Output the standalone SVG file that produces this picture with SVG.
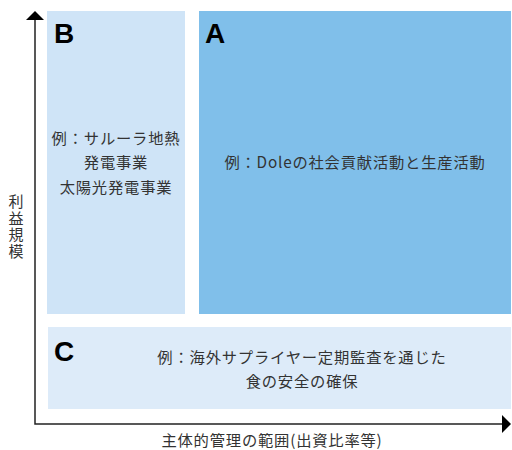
<svg xmlns="http://www.w3.org/2000/svg" width="512" height="450" viewBox="0 0 512 450">
<style>
.lbl{font-family:"Liberation Sans",Arial,sans-serif;font-size:28px;font-weight:bold;fill:#000;}
.t{font-family:"Noto Sans CJK JP","Noto Sans",sans-serif;font-size:15.3px;fill:#333;text-anchor:middle;letter-spacing:0.8px;}
.ax{stroke:#222;stroke-width:1.5;fill:none;}
</style>
<rect width="512" height="450" fill="#fff"/>
<g id="nodeB">
<rect x="47" y="11" width="138" height="303" fill="#cfe4f7"/>
<text class="lbl" x="54" y="43">B</text>
<text class="t" x="116" y="144">例：サルーラ地熱</text>
<text class="t" x="116" y="168">発電事業</text>
<text class="t" x="116" y="193">太陽光発電事業</text>
</g>
<g id="nodeA">
<rect x="199" y="11" width="312" height="303" fill="#80bfea"/>
<text class="lbl" x="205" y="43">A</text>
<text class="t" x="355" y="168">例：Doleの社会貢献活動と生産活動</text>
</g>
<g id="nodeC">
<rect x="48" y="327" width="463" height="82" fill="#ddebf9"/>
<text class="lbl" x="54" y="361">C</text>
<text class="t" x="302" y="363">例：海外サプライヤー定期監査を通じた</text>
<text class="t" x="302" y="387">食の安全の確保</text>
</g>
<g id="connectors">
<path class="ax" d="M35 20 V424 H503"/>
<polygon points="26,20 44,20 35,11" fill="#000"/>
<polygon points="502,415 502,433 511,424" fill="#000"/>
</g>
<g id="axis-labels">
<text x="16" y="194" style="font-family:'Noto Sans CJK JP','Noto Sans',sans-serif;font-size:15px;fill:#333;writing-mode:vertical-rl;letter-spacing:1.5px;">利益規模</text>
<text class="t" x="272" y="446">主体的管理の範囲(出資比率等)</text>
</g>
</svg>
